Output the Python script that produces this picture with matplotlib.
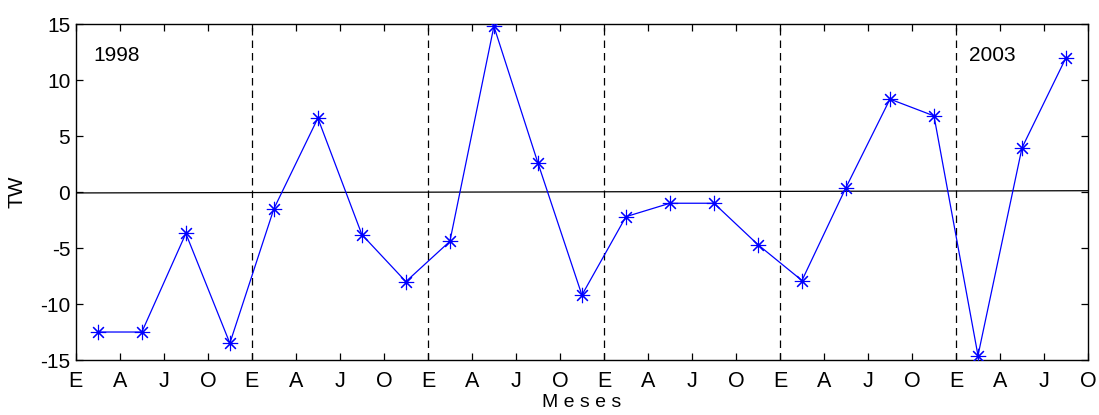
import matplotlib.pyplot as plt
import numpy as np

# quarterly TW values, 1998 -> 2003
tw = [-12.5, -12.5, -3.7, -13.5, -1.5, 6.6, -3.8, -8.0, -4.4, 14.8, 2.6, -9.2,
      -2.2, -1.0, -1.0, -4.7, -7.9, 0.4, 8.3, 6.8, -14.6, 3.95, 12.0]
month_labels = ["E", "A", "J", "O"] * 6
year_marks = [4, 8, 12, 16, 20]
trend_ends = [-0.08, 0.12]
year_text = [("1998", 0.4), ("2003", 20.3)]

plt.rcParams.update({
    "font.family": ["Liberation Sans", "DejaVu Sans"],
    "font.size": 14,
    "axes.unicode_minus": False,
})

fig = plt.figure(figsize=(10.99, 4.15), dpi=100)
ax = fig.add_axes([0.069, 0.1325, 0.921, 0.8095])

x = np.arange(len(tw)) + 0.5
ax.plot([0, len(tw) + 0.05], trend_ends, color="black", linewidth=0.9, zorder=1)
for xm in year_marks:
    ax.axvline(xm, color="black", linestyle=(0, (6, 4)), linewidth=0.9, zorder=1)
ax.plot(x, tw, color="blue", linewidth=0.9, marker=(8, 2, 0), markersize=11,
        markeredgewidth=0.8, zorder=3)

for txt, xt in year_text:
    ax.text(xt, 12.2, txt, fontsize=15, va="center", ha="left")

ax.set_xlim(0, len(tw))
ax.set_ylim(-15, 15)
ax.set_xticks(np.arange(len(month_labels)))
ax.set_xticklabels(month_labels, fontsize=15.5)
ax.set_yticks([-15, -10, -5, 0, 5, 10, 15])
ax.tick_params(direction="in", top=True, right=True, length=5, width=0.9)
ax.tick_params(axis="x", pad=8)
ax.tick_params(axis="y", labelsize=15, pad=4)
ax.set_ylabel("TW", fontsize=15, labelpad=10)
ax.set_xlabel("M e s e s", fontsize=14, labelpad=1)
for s in ax.spines.values():
    s.set_linewidth(1.0)

fig.savefig("out.png", dpi=100)
